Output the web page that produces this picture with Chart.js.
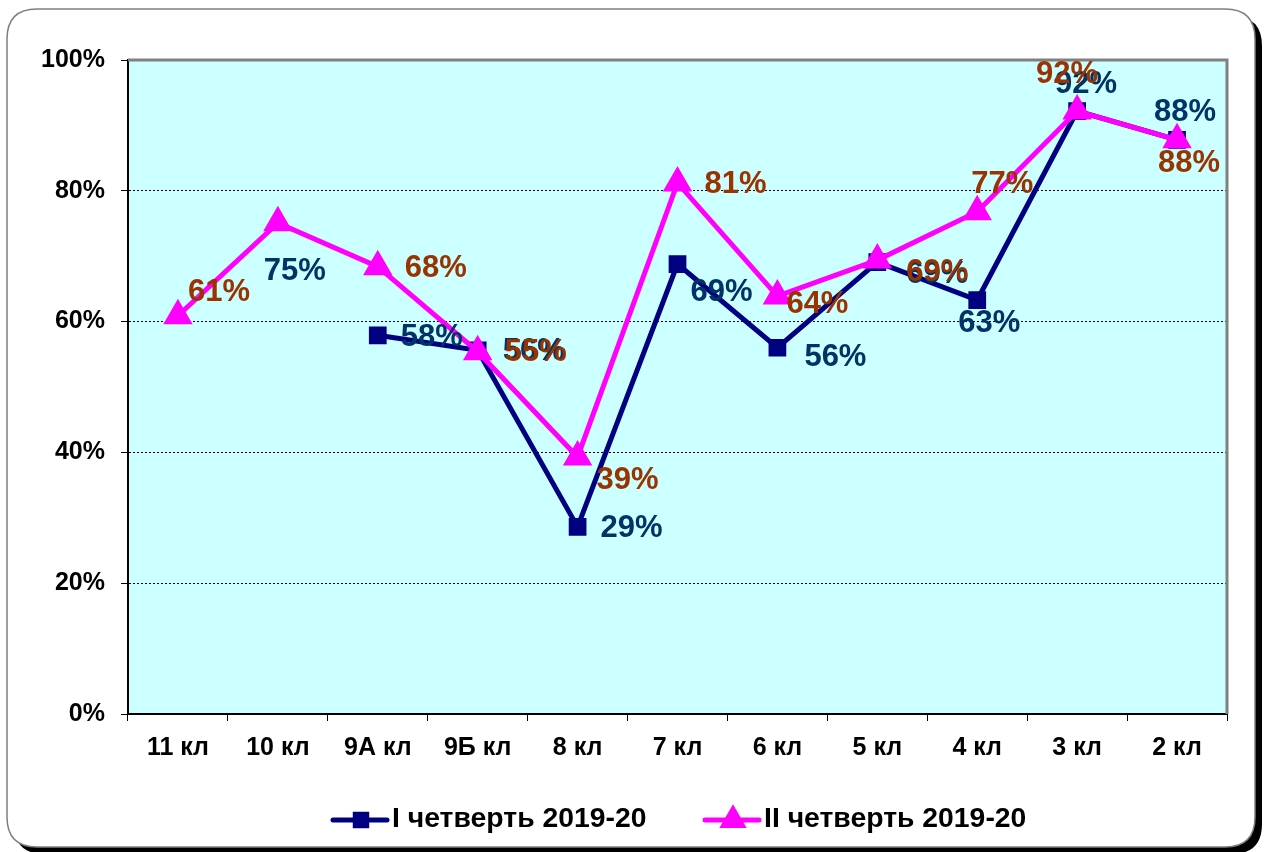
<!DOCTYPE html>
<html>
<head>
<meta charset="utf-8">
<title>Успеваемость по классам</title>
<script src="https://cdn.jsdelivr.net/npm/chart.js@4.4.1/dist/chart.umd.min.js"></script>
<style>
  html, body { margin: 0; padding: 0; background: #fff; }
  canvas { display: block; }
</style>
</head>
<body>
<canvas id="chart" width="1269" height="852"></canvas>
<script>
// данные
const classes = ['11 кл', '10 кл', '9А кл', '9Б кл', '8 кл', '7 кл', '6 кл', '5 кл', '4 кл', '3 кл', '2 кл'];
const quarter1 = [null, null, 57.9, 55.6, 28.6, 68.8, 56.0, 69.1, 63.3, 92.2, 87.8];
const quarter2 = [60.9, 75.1, 68.4, 55.4, 39.3, 81.2, 63.9, 69.4, 76.8, 92.2, 87.8];
const yTicks = [0, 20, 40, 60, 80, 100];
const seriesNames = ['I четверть 2019-20', 'II четверть 2019-20'];

// сдвиги подписей относительно точки (как в оригинале)
const labelShift1 = [[0, 0], [0, 0], [54, 2], [56, 1], [54, 1], [44, 28], [58, 10], [60, 12], [12, 23], [9, -27], [8, -27]];
const labelShift2 = [[41, -23], [17, 49], [58, 2], [58, 1], [50, 23], [58, 2], [40, 8], [60, 12], [25, -27], [-10, -37], [12, 24]];
const labelColor1 = '#003366';
const labelColor2 = ['#993300', '#003366', '#993300', '#993300', '#993300', '#993300', '#993300', '#993300', '#993300', '#993300', '#993300'];

const FONT = '"Liberation Sans", Arial, sans-serif';

function roundRect(ctx, x, y, w, h, r) {
  ctx.beginPath();
  ctx.moveTo(x + r, y);
  ctx.lineTo(x + w - r, y);
  ctx.quadraticCurveTo(x + w, y, x + w, y + r);
  ctx.lineTo(x + w, y + h - r);
  ctx.quadraticCurveTo(x + w, y + h, x + w - r, y + h);
  ctx.lineTo(x + r, y + h);
  ctx.quadraticCurveTo(x, y + h, x, y + h - r);
  ctx.lineTo(x, y + r);
  ctx.quadraticCurveTo(x, y, x + r, y);
  ctx.closePath();
}

// рамка, фон области построения, подписи и легенда
const decorPlugin = {
  id: 'decor',
  beforeDraw(chart) {
    const ctx = chart.ctx;
    const a = chart.chartArea;
    ctx.save();
    ctx.fillStyle = '#fff';
    ctx.fillRect(0, 0, chart.width, chart.height);
    // тень рамки
    roundRect(ctx, 14, 16, 1248, 838, 30);
    ctx.fillStyle = '#000';
    ctx.fill();
    roundRect(ctx, 7, 9, 1248, 838, 30);
    ctx.fillStyle = '#fff';
    ctx.fill();
    ctx.lineWidth = 1.5;
    ctx.strokeStyle = '#808080';
    ctx.stroke();
    // фон графика
    ctx.fillStyle = '#CCFFFF';
    ctx.fillRect(a.left, a.top, a.right - a.left, a.bottom - a.top);
    ctx.restore();
  },
  beforeDatasetsDraw(chart) {
    const ctx = chart.ctx;
    const a = chart.chartArea;
    ctx.save();
    ctx.strokeStyle = '#808080';
    ctx.lineWidth = 3;
    ctx.beginPath();
    ctx.moveTo(a.left, a.top);
    ctx.lineTo(a.right, a.top);
    ctx.lineTo(a.right, a.bottom);
    ctx.stroke();
    ctx.restore();
  },
  afterDatasetsDraw(chart) {
    const ctx = chart.ctx;
    ctx.save();
    ctx.font = 'bold 31px ' + FONT;
    ctx.textAlign = 'center';
    ctx.textBaseline = 'middle';
    const m1 = chart.getDatasetMeta(0);
    const m2 = chart.getDatasetMeta(1);
    quarter1.forEach((v, i) => {
      if (v === null) return;
      const p = m1.data[i];
      ctx.fillStyle = labelColor1;
      ctx.fillText(Math.round(v) + '%', p.x + labelShift1[i][0], p.y + labelShift1[i][1]);
    });
    quarter2.forEach((v, i) => {
      if (v === null) return;
      const p = m2.data[i];
      ctx.fillStyle = labelColor2[i];
      ctx.fillText(Math.round(v) + '%', p.x + labelShift2[i][0], p.y + labelShift2[i][1]);
    });
    ctx.restore();
  },
  afterDraw(chart) {
    // легенда: линия с маркером + текст (текст чуть растянут, как в Excel)
    const ctx = chart.ctx;
    const y = 820;
    const items = [
      { x: 333, ds: chart.data.datasets[0] },
      { x: 705, ds: chart.data.datasets[1] }
    ];
    ctx.save();
    items.forEach((it, k) => {
      const ds = it.ds;
      ctx.strokeStyle = ds.borderColor;
      ctx.lineWidth = 5;
      ctx.lineCap = 'round';
      ctx.beginPath();
      ctx.moveTo(it.x, y);
      ctx.lineTo(it.x + 54, y);
      ctx.stroke();
      ctx.fillStyle = ds.pointBackgroundColor;
      ctx.strokeStyle = ds.pointBorderColor;
      Chart.helpers.drawPoint(ctx, {
        pointStyle: ds.pointStyle,
        radius: ds.pointRadius * 0.9,
        borderWidth: 1
      }, it.x + 28, y);
      ctx.save();
      ctx.translate(it.x + 59, y);
      ctx.scale(1.05, 1);
      ctx.fillStyle = '#000';
      ctx.font = 'bold 27px ' + FONT;
      ctx.textAlign = 'left';
      ctx.textBaseline = 'middle';
      ctx.fillText(seriesNames[k], 0, 0);
      ctx.restore();
    });
    ctx.restore();
  }
};

const ctx = document.getElementById('chart').getContext('2d');
const chart = new Chart(ctx, {
  type: 'line',
  data: {
    labels: classes,
    datasets: [
      {
        label: seriesNames[0],
        data: quarter1,
        borderColor: '#000080',
        backgroundColor: '#000080',
        pointBackgroundColor: '#000080',
        pointBorderColor: '#000080',
        pointStyle: 'rect',
        pointRadius: 9,
        borderWidth: 5,
        tension: 0,
        order: 1
      },
      {
        label: seriesNames[1],
        data: quarter2,
        borderColor: '#FF00FF',
        backgroundColor: '#FF00FF',
        pointBackgroundColor: '#FF00FF',
        pointBorderColor: '#FF00FF',
        pointStyle: 'triangle',
        pointRadius: 12,
        borderWidth: 5,
        tension: 0,
        order: 0
      }
    ]
  },
  options: {
    responsive: false,
    animation: false,
    layout: { padding: { left: 0, top: 60, right: 42, bottom: 0 } },
    plugins: {
      legend: { display: false },
      tooltip: { enabled: false }
    },
    scales: {
      x: {
        offset: true,
        afterFit(scale) { scale.height = 138; },
        grid: { display: true, drawOnChartArea: false, tickLength: 7, tickColor: '#000', offset: true },
        border: { display: true, color: '#000', width: 2 },
        ticks: {
          color: '#000',
          padding: 12,
          font: { family: FONT, size: 25, weight: 'bold' },
          maxRotation: 0
        }
      },
      y: {
        min: 0,
        max: 100,
        afterFit(scale) { scale.width = 128; },
        afterBuildTicks(scale) { scale.ticks = yTicks.map(v => ({ value: v })); },
        grid: {
          color: c => (c.tick && c.tick.value > 0 && c.tick.value < 100) ? '#000' : 'rgba(0,0,0,0)',
          tickColor: '#000',
          tickLength: 7,
          lineWidth: 1
        },
        border: { display: true, color: '#000', width: 2, dash: [2, 2] },
        ticks: {
          color: '#000',
          padding: 16,
          font: { family: FONT, size: 25, weight: 'bold' },
          callback: v => v + '%'
        }
      }
    }
  },
  plugins: [decorPlugin]
});
</script>
</body>
</html>
